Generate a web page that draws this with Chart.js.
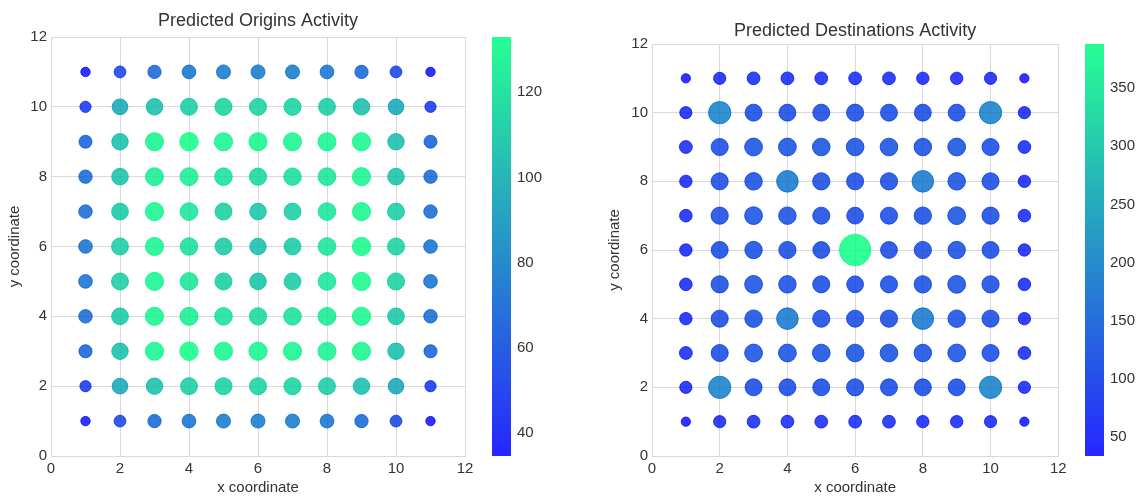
<!DOCTYPE html>
<html>
<head>
<meta charset="utf-8">
<script src="https://cdn.jsdelivr.net/npm/chart.js@4.4.1/dist/chart.umd.min.js"></script>
<style>
  body { margin: 0; background: #fff; width: 1143px; height: 498px; overflow: hidden; position: relative; }
  .box { position: absolute; top: 0; height: 498px; }
</style>
</head>
<body>
<div class="box" style="left:0;width:480px"><canvas id="origins"></canvas></div>
<div class="box" style="left:485px;width:60px"><canvas id="originsBar"></canvas></div>
<div class="box" style="left:575px;width:500px"><canvas id="dest"></canvas></div>
<div class="box" style="left:1078px;width:65px"><canvas id="destBar"></canvas></div>
<script>
// grid coordinates (rows below go from y=11 down to y=1)
const xCoords = [1, 2, 3, 4, 5, 6, 7, 8, 9, 10, 11];
const yCoords = [11, 10, 9, 8, 7, 6, 5, 4, 3, 2, 1];
const axisTicks = [0, 2, 4, 6, 8, 10, 12];

// predicted origins activity, one row per y
const originActivity = [
  [34.5, 55, 69, 74, 77, 77, 77, 74, 69, 55, 34.5],
  [49, 96, 106, 112, 114, 114, 114, 112, 106, 96, 49],
  [66, 106, 128, 133, 129, 129, 129, 129, 130, 106, 66],
  [70, 108, 127, 126, 121, 116, 119, 123, 129, 108, 70],
  [71, 110, 129, 122, 113, 109, 112, 122, 129, 112, 71],
  [73, 112, 129, 120, 111, 106, 111, 122, 131, 114, 73],
  [73, 112, 129, 122, 113, 108, 111, 122, 131, 114, 73],
  [71, 110, 129, 127, 121, 117, 121, 125, 130, 110, 71],
  [67, 106, 129, 133, 129, 129, 129, 128, 129, 106, 67],
  [49, 96, 106, 112, 114, 114, 114, 112, 106, 96, 49],
  [34.5, 55, 69, 74, 77, 77, 77, 74, 69, 55, 34.5]
];

// predicted destinations activity, one row per y
const destActivity = [
  [33.6, 58, 64, 64, 64, 64, 64, 60, 60, 58, 33.6],
  [58, 195, 112, 112, 112, 115, 112, 112, 112, 195, 58],
  [64, 114, 124, 124, 122, 122, 122, 120, 124, 114, 64],
  [60, 114, 120, 182, 116, 114, 116, 182, 120, 114, 60],
  [62, 116, 124, 120, 114, 110, 114, 118, 124, 116, 62],
  [60, 112, 118, 116, 110, 388, 110, 116, 118, 112, 60],
  [62, 116, 124, 120, 114, 110, 114, 118, 124, 116, 62],
  [60, 114, 120, 182, 116, 114, 116, 182, 120, 114, 60],
  [64, 114, 124, 124, 122, 122, 122, 120, 124, 114, 64],
  [58, 195, 112, 112, 112, 115, 112, 112, 112, 195, 58],
  [33.6, 58, 64, 64, 64, 64, 64, 60, 60, 58, 33.6]
];

const originBarTicks = [40, 60, 80, 100, 120];
const destBarTicks = [50, 100, 150, 200, 250, 300, 350];

const SIZE_K = 0.8;       // marker area ~ value
const FONT = "'Liberation Sans', Arial, sans-serif";
const INK = '#333333';
const GRID = '#d9d9d9';

Chart.defaults.font.family = FONT;
Chart.defaults.color = INK;

// matplotlib "winter": blue -> spring green
function winter(v, lo, hi, a) {
  const t = Math.max(0, Math.min(1, (v - lo) / (hi - lo)));
  return 'rgba(0,' + Math.round(255 * t) + ',' + Math.round(255 * (1 - 0.5 * t)) + ',' + a + ')';
}

function scatterChart(id, title, rows, p) {
  const flat = rows.flat();
  const lo = Math.min(...flat), hi = Math.max(...flat);
  const points = [];
  rows.forEach((row, i) => row.forEach((v, j) => {
    points.push({ x: xCoords[j], y: yCoords[i], r: SIZE_K * Math.sqrt(v), v: v });
  }));
  const col = ctx => ctx.raw ? winter(ctx.raw.v, lo, hi, 0.8) : 'transparent';

  const axis = (label, titlePad) => ({
    type: 'linear', min: 0, max: 12,
    afterBuildTicks: s => { s.ticks = axisTicks.map(v => ({ value: v })); },
    ticks: { color: INK, font: { size: 15 }, padding: 4 },
    grid: { color: GRID, drawTicks: false },
    border: { color: GRID },
    title: { display: true, text: label, color: INK, font: { size: 15 }, padding: titlePad }
  });
  const x = axis('x coordinate', { top: 0, bottom: 1 });
  x.afterFit = s => { s.height = 42; };
  const y = axis('y coordinate', { top: p.yTitle, bottom: 0 });
  y.afterFit = s => { s.width = p.yWidth; };

  new Chart(document.getElementById(id), {
    type: 'bubble',
    data: { datasets: [{ data: points, backgroundColor: col, borderColor: col, borderWidth: 1 }] },
    options: {
      responsive: true, maintainAspectRatio: false, animation: false,
      layout: { padding: { left: 0, right: p.right, top: 0, bottom: 0 } },
      plugins: {
        legend: { display: false },
        tooltip: { enabled: false },
        title: {
          display: true, text: title, fullSize: false, color: INK,
          font: { size: 18, weight: 'normal' },
          padding: { top: p.tTop, bottom: p.tBottom }
        }
      },
      scales: { x: x, y: y }
    }
  });
}

function colorbar(id, rows, tickVals, p) {
  const flat = rows.flat();
  const lo = Math.min(...flat), hi = Math.max(...flat);
  new Chart(document.getElementById(id), {
    type: 'bar',
    data: {
      labels: [''],
      datasets: [{
        data: [[lo, hi]],
        backgroundColor: ctx => {
          const ca = ctx.chart.chartArea;
          if (!ca) return null;
          const g = ctx.chart.ctx.createLinearGradient(0, ca.bottom, 0, ca.top);
          g.addColorStop(0, winter(lo, lo, hi, 0.85));
          g.addColorStop(1, winter(hi, lo, hi, 0.85));
          return g;
        },
        borderWidth: 0,
        barPercentage: 1,
        categoryPercentage: 1
      }]
    },
    options: {
      responsive: true, maintainAspectRatio: false, animation: false,
      layout: { padding: { left: 7, right: 0, top: p.top, bottom: 42 } },
      plugins: { legend: { display: false }, tooltip: { enabled: false } },
      scales: {
        x: { display: false },
        y: {
          position: 'right', min: lo, max: hi,
          afterBuildTicks: s => { s.ticks = tickVals.map(v => ({ value: v })); },
          afterFit: s => { s.width = p.width; },
          ticks: { color: INK, font: { size: 15 }, padding: 6 },
          grid: { display: false, drawTicks: false },
          border: { display: false }
        }
      }
    }
  });
}

scatterChart('origins', 'Predicted Origins Activity', originActivity,
  { yWidth: 51, right: 15, tTop: 10, tBottom: 5.4, yTitle: 6 });
colorbar('originsBar', originActivity, originBarTicks, { top: 37, width: 34 });

scatterChart('dest', 'Predicted Destinations Activity', destActivity,
  { yWidth: 77, right: 16, tTop: 20, tBottom: 2.4, yTitle: 31 });
colorbar('destBar', destActivity, destBarTicks, { top: 44, width: 39 });
</script>
</body>
</html>
